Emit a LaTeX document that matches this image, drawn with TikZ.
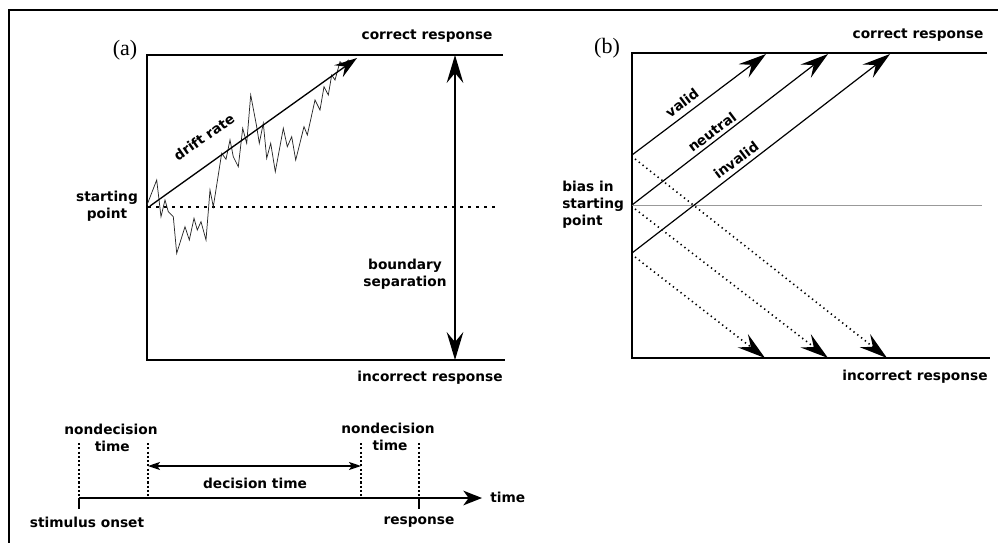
\documentclass[tikz,border=0pt]{standalone}
\usepackage{fontspec}
\setmainfont{DejaVu Sans}
\newfontfamily\panelfont{Liberation Serif}
\usetikzlibrary{arrows.meta}
\begin{document}
\begin{tikzpicture}[x=0.75pt,y=-0.75pt,
  lbl/.style={font=\fontsize{10.3}{12.75}\selectfont\bfseries, inner sep=0pt, align=center},
  lbll/.style={lbl, align=left},
  panel/.style={font=\fontsize{16.5}{18}\selectfont\panelfont, inner sep=0pt},
  frame/.style={line width=1.1pt},
  bighead/.style={-{Stealth[length=21pt,width=12.5pt,inset=7.5pt]}},
  solidarr/.style={bighead, line width=0.9pt},
  dotarr/.style={bighead, line width=1.2pt, dash pattern=on 1pt off 2.6pt},
  startline/.style={line width=0.9pt, dash pattern=on 2pt off 4pt},
  tickdot/.style={line width=0.9pt, dash pattern=on 1.6pt off 1.6pt},
  walk/.style={line width=0.55pt, color=black!85},
]
\useasboundingbox (0,0) rectangle (998,543);

% outer border
\coordinate (otl) at (9,10);
\coordinate (otr) at (998,10);
\coordinate (obl) at (9,543);
\draw[line width=0.9pt] (otr) -- (otl) -- (obl);

% ---------------- panel (a) ----------------
\node[panel] (pa) at (125,50) {(a)};
\coordinate (atl) at (147,55);
\coordinate (atr) at (503,55);
\coordinate (abl) at (147,360);
\coordinate (abr) at (505,360);
\draw[frame] (atr) -- (atl) -- (abl) -- (abr);

\coordinate (as) at (148,207);
\coordinate (ae) at (495,207);
\draw[startline] (as) -- (ae);

% random walk
\draw[walk] (147,205) -- (156.7,180) -- (161,216.7) -- (165,200) -- (168.3,211.7)
  -- (173.3,216.7) -- (176.7,253.3) -- (185,226.7) -- (189.3,240) -- (194,218.3)
  -- (197.3,230) -- (201,221.7) -- (206,240) -- (210,190) -- (213.3,206.7)
  -- (221.7,153.3) -- (226,159.3) -- (230,140) -- (233.3,156.7) -- (238.3,166.7)
  -- (242.7,128.3) -- (246.7,143.3) -- (250.7,95) -- (256.7,126.7) -- (259.3,143.3)
  -- (263.3,123.3) -- (266.7,158.3) -- (270.7,143.3) -- (275.3,171.7) -- (283.3,128.3)
  -- (287.3,146.7) -- (291.7,136.7) -- (295.7,160) -- (304,126.7) -- (307.3,135)
  -- (315,100) -- (320,110) -- (324,86.7) -- (328.3,95) -- (331.7,75)
  -- (335,80) -- (340,61.7) -- (343.3,65) -- (348.3,60) -- (352,63);

% drift arrow
\coordinate (ds) at (150,206);
\coordinate (de) at (357,58);
\draw[line width=1pt, -{Stealth[length=17pt,width=11pt,inset=6pt]}] (ds) -- (de);
\node[lbl, rotate=35] (drift) at (204,137) {drift rate};

% boundary separation
\coordinate (bt) at (455,55);
\coordinate (bb) at (455,360);
\draw[line width=1.1pt, {Stealth[length=21pt,width=12.5pt,inset=7.5pt]}-{Stealth[length=21pt,width=12.5pt,inset=7.5pt]}] (bt) -- (bb);
\node[lbl] (bsep) at (405,274.5) {boundary\\separation};

\node[lbl] (acor) at (427,36) {correct response};
\node[lbl] (ainc) at (430,378) {incorrect response};
\node[lbl] (astart) at (107,206.5) {starting\\point};

% ---------------- timeline ----------------
\coordinate (t0) at (79,498);
\coordinate (tend) at (482,498);
\draw[line width=1pt, -{Stealth[length=14pt,width=11pt,inset=4pt]}] (t0) -- (tend);
\node[lbl, anchor=west] (time) at (490,497) {time};
\coordinate (t0b) at (79,509);
\coordinate (trb) at (419,509);
\coordinate (tr) at (419,498);
\draw[line width=1pt] (t0) -- (t0b);
\draw[line width=1pt] (tr) -- (trb);
\coordinate (d1t) at (79,443);
\coordinate (d2t) at (148,443);
\coordinate (d2b) at (148,498);
\coordinate (d3t) at (361,443);
\coordinate (d3b) at (361,498);
\coordinate (d4t) at (419,443);
\draw[tickdot] (d1t) -- (t0);
\draw[tickdot] (d2t) -- (d2b);
\draw[tickdot] (d3t) -- (d3b);
\draw[tickdot] (d4t) -- (tr);
\coordinate (dl) at (148,466);
\coordinate (dr) at (361,466);
\draw[line width=1pt, {Stealth[length=9pt,width=6pt,inset=2pt]}-{Stealth[length=9pt,width=6pt,inset=2pt]}] (dl) -- (dr);
\node[lbl] (dtime) at (255,483) {decision time};
\node[lbl] (nd1) at (111,437.5) {nondecision\\\hspace*{2pt}time};
\node[lbl] (nd2) at (388,436.5) {nondecision\\\hspace*{3pt}time};
\node[lbl] (onset) at (87,522) {stimulus onset};
\node[lbl] (resp) at (419,522) {response};

% ---------------- panel (b) ----------------
\node[panel] (pb) at (607,48) {(b)};
\coordinate (btl) at (632,53);
\coordinate (btr) at (987,53);
\coordinate (bbl) at (632,358);
\coordinate (bbr) at (990,358);
\draw[frame] (btr) -- (btl) -- (bbl) -- (bbr);
\coordinate (gl) at (632,205);
\coordinate (gr) at (982,205);
\draw[line width=0.6pt, color=black!40] (gl) -- (gr);

\coordinate (sv) at (632,155);
\coordinate (sn) at (632,205);
\coordinate (si) at (632,253);
\coordinate (ev) at (766,54);
\coordinate (en) at (828,54);
\coordinate (ei) at (890,54);
\draw[solidarr] (sv) -- (ev);
\draw[solidarr] (sn) -- (en);
\draw[solidarr] (si) -- (ei);
\node[lbl, rotate=37] (valid) at (682,103) {valid};
\node[lbl, rotate=37] (neutral) at (712,132) {neutral};
\node[lbl, rotate=37] (invalid) at (736,160) {invalid};

\coordinate (qv) at (635,159);
\coordinate (qn) at (635,209);
\coordinate (qi) at (635,257);
\coordinate (fv) at (887,358);
\coordinate (fn) at (828,358);
\coordinate (fi) at (765,358);
\draw[dotarr] (qv) -- (fv);
\draw[dotarr] (qn) -- (fn);
\draw[dotarr] (qi) -- (fi);

\node[lbl] (bcor) at (918,35) {correct response};
\node[lbl] (binc) at (915,377) {incorrect response};
\node[lbll, anchor=west] (bias) at (562,205) {bias in\\starting\\point};
\end{tikzpicture}
\end{document}
